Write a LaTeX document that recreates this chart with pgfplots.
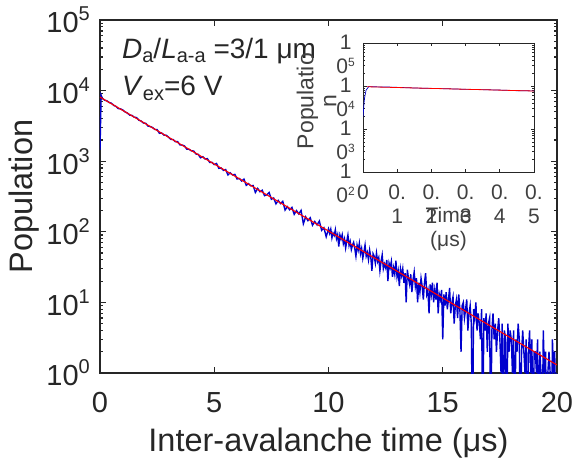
\documentclass[border=0pt]{standalone}
\usepackage{fontspec}
\setmainfont{Liberation Sans}
\usepackage{pgfplots}
\pgfplotsset{compat=1.18}

\definecolor{axgray}{RGB}{38,38,38}
\definecolor{ingray}{RGB}{64,64,64}
\definecolor{dblue}{RGB}{0,0,205}
\definecolor{fitred}{RGB}{255,0,0}

% tick label pieces, MATLAB-like sizes
\newcommand{\pw}[1]{10\raisebox{12pt}{\fontsize{20}{20}\selectfont #1}}
\newcommand{\iex}[1]{\raisebox{7pt}{\fontsize{12}{12}\selectfont #1}}
\newcommand{\sub}[1]{\raisebox{-4.5pt}{\fontsize{20}{20}\selectfont #1}}

\begin{document}
\begin{tikzpicture}
\useasboundingbox (-100pt,-86pt) rectangle (473pt,373pt);

\begin{axis}[
  width=457pt, height=353pt, scale only axis,
  xmin=0, xmax=20, ymode=log, ymin=1, ymax=1e5,
  xtick={0,5,10,15,20},
  ytick={1,10,100,1000,10000,100000},
  yticklabels={\pw{0},\pw{1},\pw{2},\pw{3},\pw{4},\pw{5}},
  /pgf/number format/assume math mode=true,
  axis line style={axgray, line width=1.6pt},
  every tick/.style={axgray, line width=1.2pt},
  major tick length=6pt, minor tick length=3.5pt,
  tick align=inside,
  ticklabel style={font=\fontsize{29}{33}\selectfont, text=axgray, inner sep=0pt},
  xticklabel style={yshift=-19pt},
  yticklabel style={xshift=-10pt},
  xlabel={Inter-avalanche time (μs)},
  ylabel={Population},
  label style={font=\fontsize{32.5}{36}\selectfont, text=axgray, inner sep=0pt},
  xlabel style={at={(axis description cs:0.5,-0.221)}, anchor=base},
  ylabel style={at={(axis description cs:-0.147,0.5)}, anchor=base},
]
% histogram counts (0 counts written as 0.1 so the line drops off the axis)
\addplot[dblue, line width=1.4pt] table[row sep=\\] {
x y\\
0 1450\\ 0.05 8600\\
0.1 7779\\ 0.2 7326\\ 0.3 7171\\ 0.4 6784\\ 0.5 6630\\ 0.6 6175\\ 0.7 5972\\ 0.8 5571\\ 0.9 5508\\ 1.0 5302\\
1.1 4978\\ 1.2 4806\\ 1.3 4499\\ 1.4 4450\\ 1.5 4197\\ 1.6 4155\\ 1.7 3814\\ 1.8 3710\\ 1.9 3475\\ 2.0 3447\\
2.1 3148\\ 2.2 3094\\ 2.3 3000\\ 2.4 2819\\ 2.5 2802\\ 2.6 2486\\ 2.7 2512\\ 2.8 2341\\ 2.9 2331\\ 3.0 2190\\
3.1 2042\\ 3.2 2025\\ 3.3 1891\\ 3.4 1891\\ 3.5 1703\\ 3.6 1690\\ 3.7 1642\\ 3.8 1475\\ 3.9 1475\\ 4.0 1400\\
4.1 1396\\ 4.2 1265\\ 4.3 1249\\ 4.4 1117\\ 4.5 1159\\ 4.6 1073\\ 4.7 1088\\ 4.8 961\\ 4.9 966\\ 5.0 897\\
5.1 929\\ 5.2 792\\ 5.3 803\\ 5.4 741\\ 5.5 761\\ 5.6 638\\ 5.7 685\\ 5.8 638\\ 5.9 650\\ 6.0 560\\
6.1 569\\ 6.2 524\\ 6.3 558\\ 6.4 455\\ 6.5 481\\ 6.6 448\\ 6.7 453\\ 6.8 361\\ 6.9 412\\ 7.0 369\\
7.1 388\\ 7.2 325\\ 7.3 334\\ 7.4 361\\ 7.5 289\\ 7.6 301\\ 7.7 249\\ 7.8 278\\ 7.9 251\\ 8.0 270\\
8.1 203\\ 8.2 227\\ 8.3 205\\ 8.4 222\\ 8.5 177\\ 8.6 200\\ 8.7 179\\ 8.8 201\\ 8.9 130\\ 9.0 163\\
9.1 144\\ 9.2 158\\ 9.3 124\\ 9.4 140\\ 9.5 125\\ 9.6 142\\ 9.7 105\\ 9.8 114\\ 9.9 85\\ 10.0 110\\
10.05 95\\ 10.1 109\\ 10.15 82\\ 10.2 96\\ 10.25 89\\ 10.3 107\\ 10.35 80\\ 10.4 91\\ 10.45 62\\ 10.5 90\\
10.55 79\\ 10.6 91\\ 10.65 68\\ 10.7 79\\ 10.75 59\\ 10.8 74\\ 10.85 90\\ 10.9 64\\ 10.95 73\\ 11.0 56\\
11.05 65\\ 11.1 71\\ 11.15 58\\ 11.2 45\\ 11.25 65\\ 11.3 55\\ 11.35 69\\ 11.4 49\\ 11.45 58\\ 11.5 42\\
11.55 52\\ 11.6 65\\ 11.65 45\\ 11.7 51\\ 11.75 40\\ 11.8 55\\ 11.85 44\\ 11.9 28\\ 11.95 49\\ 12.0 45\\
12.05 36\\ 12.1 50\\ 12.15 38\\ 12.2 43\\ 12.25 28\\ 12.3 38\\ 12.35 47\\ 12.4 30\\ 12.45 35\\ 12.5 31\\
12.55 40\\ 12.6 20\\ 12.65 36\\ 12.7 31\\ 12.75 38\\ 12.8 23\\ 12.85 31\\ 12.9 25\\ 12.95 39\\ 13.0 23\\
13.05 28\\ 13.1 17\\ 13.15 30\\ 13.2 24\\ 13.25 30\\ 13.3 19\\ 13.35 26\\ 13.4 10\\ 13.45 29\\ 13.5 22\\
13.55 18\\ 13.6 25\\ 13.65 14\\ 13.7 21\\ 13.75 27\\ 13.8 17\\ 13.85 22\\ 13.9 10\\ 13.95 19\\ 14.0 14\\
14.05 22\\ 14.1 17\\ 14.15 11\\ 14.2 19\\ 14.25 26\\ 14.3 13\\ 14.35 15\\ 14.4 7\\ 14.45 18\\ 14.5 13\\
14.55 19\\ 14.6 10\\ 14.65 15\\ 14.7 11\\ 14.75 19\\ 14.8 7\\ 14.85 13\\ 14.9 11\\ 14.95 15\\ 15.0 3\\
15.05 13\\ 15.1 9\\ 15.15 14\\ 15.2 8\\ 15.25 11\\ 15.3 16\\ 15.35 7\\ 15.4 10\\ 15.45 12\\ 15.5 5\\
15.55 9\\ 15.6 11\\ 15.65 6\\ 15.7 13\\ 15.75 8\\ 15.8 2\\ 15.85 9\\ 15.9 10\\ 15.95 6\\ 16.0 8\\
16.05 11\\ 16.1 4\\ 16.15 7\\ 16.2 9\\ 16.25 5\\ 16.3 0.1\\ 16.35 8\\ 16.4 6\\ 16.45 10\\ 16.5 4\\
16.55 7\\ 16.6 5\\ 16.65 3\\ 16.7 8\\ 16.75 0.1\\ 16.8 6\\ 16.85 4\\ 16.9 7\\ 16.95 2\\ 17.0 5\\
17.05 6\\ 17.1 0.1\\ 17.15 4\\ 17.2 7\\ 17.25 3\\ 17.3 5\\ 17.35 2\\ 17.4 4\\ 17.45 6\\ 17.5 3\\
17.55 1\\ 17.6 5\\ 17.65 0.1\\ 17.7 4\\ 17.75 3\\ 17.8 0.1\\ 17.85 5\\ 17.9 2\\ 17.95 4\\ 18.0 3\\
18.05 1\\ 18.1 4\\ 18.15 0.1\\ 18.2 3\\ 18.25 2\\ 18.3 5\\ 18.35 3\\ 18.4 0.1\\ 18.45 2\\ 18.5 4\\
18.55 2\\ 18.6 1\\ 18.65 3\\ 18.7 0.1\\ 18.75 2\\ 18.8 4\\ 18.85 1\\ 18.9 3\\ 18.95 0.1\\ 19.0 2\\
19.05 2\\ 19.1 1\\ 19.15 3\\ 19.2 0.1\\ 19.25 2\\ 19.3 1\\ 19.35 0.1\\ 19.4 4\\ 19.45 1\\ 19.5 2\\
19.55 0.1\\ 19.6 1\\ 19.65 2\\ 19.7 1\\ 19.75 0.1\\ 19.8 3\\ 19.85 1\\ 19.9 2\\ 19.95 0.1\\ 20.0 1\\
};
% exponential fit (straight on the log axis)
\addplot[fitred, line width=1.1pt] coordinates {(0,8100) (20,1.3)};

\node[anchor=base west, inner sep=0pt, font=\fontsize{28}{32}\selectfont, text=axgray]
  at (axis description cs:0.048,0.892)
  {\textit{D}\sub{a}/\textit{L}\sub{a-a} =3/1 μm};
\node[anchor=base west, inner sep=0pt, font=\fontsize{28}{32}\selectfont, text=axgray]
  at (axis description cs:0.048,0.785)
  {\textit{V}\sub{ex}=6 V};
\end{axis}

% inset
\begin{axis}[
  at={(263pt,201pt)}, anchor=south west,
  width=171pt, height=129pt, scale only axis,
  xmin=0, xmax=0.5, ymode=log, ymin=100, ymax=1e5,
  xtick={0,0.1,0.2,0.3,0.4,0.5},
  xticklabels={0,{0.\\1},{0.\\2},{0.\\3},{0.\\4},{0.\\5}},
  ytick={100,1000,10000,100000},
  yticklabels={{1\\0\iex{2}},{1\\0\iex{3}},{1\\0\iex{4}},{1\\0\iex{5}}},
  axis line style={axgray, line width=0.9pt},
  every tick/.style={axgray, line width=0.7pt},
  major tick length=3.5pt, minor tick length=2pt,
  tick align=inside,
  ticklabel style={font=\fontsize{21}{24}\selectfont, text=ingray, inner sep=0pt, align=center},
  xticklabel style={anchor=north, yshift=-13pt},
  yticklabel style={anchor=north east, xshift=-8pt, yshift=8pt},
  xlabel={Time\\(μs)},
  ylabel={Populatio\\n},
  label style={text=ingray, inner sep=0pt, align=center},
  xlabel style={font=\fontsize{21}{24}\selectfont, at={(axis description cs:0.5,-0.271)}, anchor=north},
  ylabel style={font=\fontsize{23}{23}\selectfont, at={(axis description cs:-0.272,0.55)}, anchor=center},
]
\addplot[dblue, line width=0.7pt] coordinates {
  (0,1900) (0.004,5000) (0.009,8000) (0.017,9700) (0.05,9500) (0.075,9450)
  (0.1,9300) (0.125,9150) (0.15,9000) (0.175,8850) (0.2,8800) (0.25,8620)
  (0.3,8360) (0.35,8230) (0.4,8040) (0.45,7780) (0.5,7690)
};
\addplot[fitred, line width=0.8pt] coordinates {(0.012,9600) (0.5,7650)};
\end{axis}
\end{tikzpicture}
\end{document}
